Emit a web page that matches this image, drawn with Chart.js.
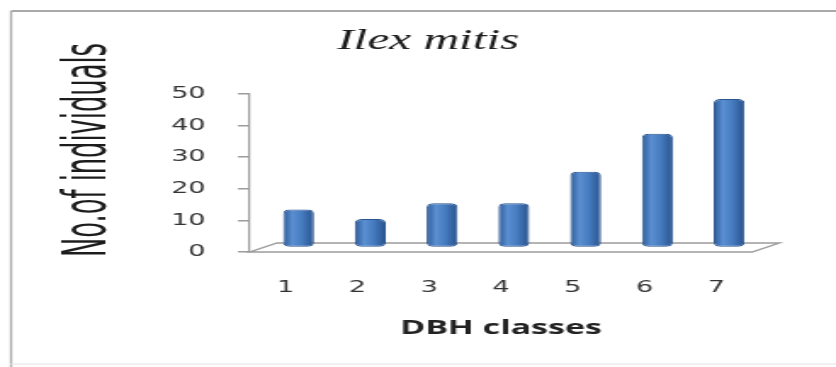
<!DOCTYPE html>
<html>
<head>
<meta charset="utf-8">
<script src="https://cdn.jsdelivr.net/npm/chart.js@4.4.1/dist/chart.umd.min.js"></script>
<style>
  html, body { margin: 0; padding: 0; background: #fff; overflow: hidden; }
  /* the figure is drawn narrow and widened horizontally */
  #wrap { width: 492px; height: 367px; transform: scaleX(1.6992); transform-origin: 0 0; }
  canvas { display: block; }
</style>
</head>
<body>
<div id="wrap"><canvas id="chart" width="492" height="367"></canvas></div>
<script>
// Number of Ilex mitis stems per diameter-at-breast-height class
const dbhClasses = ['1', '2', '3', '4', '5', '6', '7'];
const individuals = [12, 9, 14, 14, 24, 36, 47];
const yMin = 0;
const yMax = 50;
const yStep = 10;

const chartTitle = 'Ilex mitis';
const xTitle = 'DBH classes';
const yTitle = 'No.of individuals';

const BAR_FRACTION = 0.43;
const DEPTH = { x: 16, y: -9 };          // floor depth (back edge offset)
const BAR_SHIFT = { x: 7.6, y: -4.5 };   // bars stand mid-way on the floor

function cylinderFill(c) {
  const chart = c.chart;
  const xs = chart.scales && chart.scales.x;
  if (!xs || c.dataIndex == null || !chart.chartArea) return '#4a7ebf';
  const cx = xs.getPixelForValue(c.dataIndex);
  const half = (xs.getPixelForValue(1) - xs.getPixelForValue(0)) * BAR_FRACTION / 2;
  const g = chart.ctx.createLinearGradient(cx - half, 0, cx + half, 0);
  g.addColorStop(0, '#2c5a97');
  g.addColorStop(0.3, '#5a8fd2');
  g.addColorStop(0.6, '#467cc0');
  g.addColorStop(1, '#28528c');
  return g;
}

const framePlugin = {
  id: 'frame',
  beforeDraw(chart) {
    const ctx = chart.ctx;
    ctx.save();
    ctx.fillStyle = '#ffffff';
    ctx.fillRect(0, 0, chart.width, chart.height);
    ctx.strokeStyle = '#a9a9a9';
    ctx.lineWidth = 2;
    ctx.beginPath();
    ctx.moveTo(6.5, 11); ctx.lineTo(chart.width, 11);
    ctx.stroke();
    ctx.lineWidth = 1.3;
    ctx.beginPath();
    ctx.moveTo(6.5, 11); ctx.lineTo(6.5, chart.height);
    ctx.stroke();
    ctx.strokeStyle = '#ececec';
    ctx.lineWidth = 1.5;
    ctx.beginPath();
    ctx.moveTo(6.5, 364); ctx.lineTo(chart.width, 364);
    ctx.stroke();
    ctx.restore();
  }
};

const floorPlugin = {
  id: 'floor',
  beforeDatasetsDraw(chart) {
    const { ctx, chartArea: ca, scales: { y } } = chart;
    const y0 = y.getPixelForValue(0);
    ctx.save();
    ctx.strokeStyle = '#9c9c9c';
    ctx.lineWidth = 1.4;
    ctx.beginPath();
    ctx.moveTo(ca.left, y0);
    ctx.lineTo(ca.right, y0);
    ctx.lineTo(ca.right + DEPTH.x, y0 + DEPTH.y);
    ctx.lineTo(ca.left + DEPTH.x, y0 + DEPTH.y);
    ctx.closePath();
    ctx.stroke();
    ctx.restore();
    ctx.save();
    ctx.translate(BAR_SHIFT.x, BAR_SHIFT.y);
  },
  afterDatasetsDraw(chart) {
    chart.ctx.restore();
  }
};

const titlesPlugin = {
  id: 'titles',
  afterDraw(chart) {
    const ctx = chart.ctx;
    ctx.save();
    ctx.fillStyle = '#1c1c1c';
    ctx.textAlign = 'center';
    ctx.textBaseline = 'middle';
    ctx.font = 'italic 29px "Liberation Serif", "Times New Roman", "DejaVu Serif", serif';
    ctx.fillText(chartTitle, 252, 41);
    ctx.translate(52.5, 150);
    ctx.rotate(-Math.PI / 2);
    ctx.font = '35px "Liberation Sans Narrow", "DejaVu Sans Condensed", "Liberation Sans", sans-serif';
    ctx.fillText(yTitle, 0, 0, 214);
    ctx.restore();
  }
};

new Chart(document.getElementById('chart'), {
  type: 'bar',
  data: {
    labels: dbhClasses,
    datasets: [{
      label: chartTitle,
      data: individuals,
      backgroundColor: cylinderFill,
      borderColor: '#2a5590',
      borderWidth: 1,
      borderSkipped: false,
      borderRadius: 4,
      barPercentage: BAR_FRACTION,
      categoryPercentage: 1,
      clip: false
    }]
  },
  options: {
    responsive: false,
    animation: false,
    devicePixelRatio: 1,
    layout: { padding: { left: 10, right: 49.4, top: 94, bottom: 0 } },
    plugins: {
      legend: { display: false },
      title: { display: false },
      tooltip: { enabled: false }
    },
    scales: {
      x: {
        grid: { display: false, drawTicks: false },
        border: { display: false },
        ticks: {
          color: '#333',
          padding: 26,
          font: { family: 'DejaVu Sans', size: 16 }
        },
        title: {
          display: true,
          text: xTitle,
          color: '#222',
          font: { family: 'Open Sans', size: 20, weight: 'bold' },
          padding: { top: 0, bottom: 27 }
        },
        afterFit(s) { s.height = 115; }
      },
      y: {
        min: yMin,
        max: yMax,
        ticks: {
          stepSize: yStep,
          color: '#333',
          padding: 19,
          font: { family: 'DejaVu Sans', size: 16 }
        },
        grid: {
          drawOnChartArea: false,
          drawTicks: true,
          tickLength: 7,
          color: '#9c9c9c',
          lineWidth: 1.5
        },
        border: { display: true, color: '#9c9c9c', width: 1.2 },
        afterFit(s) { s.width = 137; }
      }
    }
  },
  plugins: [framePlugin, floorPlugin, titlesPlugin]
});
</script>
</body>
</html>
